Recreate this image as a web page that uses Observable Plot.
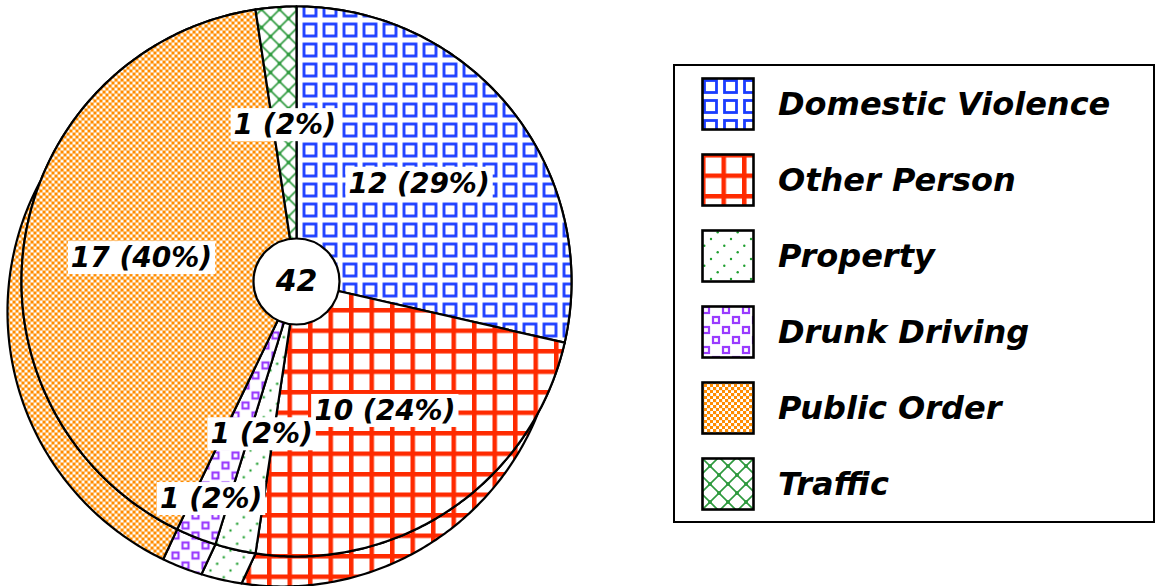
<!DOCTYPE html>
<html><head><meta charset="utf-8">
<script src="https://cdn.jsdelivr.net/npm/d3@7"></script>
<script src="https://cdn.jsdelivr.net/npm/@observablehq/plot@0.6"></script>
<style>
html,body{margin:0;padding:0;background:#fff;}
#wrap{position:relative;width:1158px;height:586px;overflow:hidden;}
#chart{position:absolute;left:0;top:0;}
#legend{position:absolute;left:673px;top:64px;width:478px;height:455px;border:2px solid #000;}
.item{position:absolute;left:26px;display:flex;align-items:center;height:54px;}
.item span{font-family:"DejaVu Sans";font-style:italic;font-weight:bold;font-size:32px;margin-left:23px;color:#000;white-space:nowrap;}
</style></head>
<body>
<svg width="0" height="0" style="position:absolute;left:0;top:0">
<defs>
<pattern id="p-dv" patternUnits="userSpaceOnUse" width="20" height="20">
  <rect width="20" height="20" fill="#fff"/>
  <rect x="3.5" y="3.5" width="12" height="12" fill="none" stroke="#1a3cff" stroke-width="2.8"/>
</pattern>
<pattern id="p-op" patternUnits="userSpaceOnUse" width="20.5" height="20.5">
  <rect width="20.5" height="20.5" fill="#fff"/>
  <rect x="0" y="0" width="20.5" height="4.5" fill="#ff2a00"/>
  <rect x="0" y="0" width="4.5" height="20.5" fill="#ff2a00"/>
</pattern>
<pattern id="p-pr" patternUnits="userSpaceOnUse" width="20" height="20">
  <rect width="20" height="20" fill="#fff"/>
  <circle cx="3.3" cy="16.7" r="1.2" fill="#1f9f2f"/>
  <circle cx="10" cy="10" r="1.2" fill="#1f9f2f"/>
  <circle cx="16.7" cy="3.3" r="1.2" fill="#1f9f2f"/>
</pattern>
<pattern id="p-dd" patternUnits="userSpaceOnUse" width="20" height="20">
  <rect width="20" height="20" fill="#fff"/>
  <rect x="2" y="2" width="6" height="6" fill="none" stroke="#9a3cff" stroke-width="2.2"/>
  <rect x="12" y="12" width="6" height="6" fill="none" stroke="#9a3cff" stroke-width="2.2"/>
</pattern>
<pattern id="p-po" patternUnits="userSpaceOnUse" width="6" height="6">
  <rect width="6" height="6" fill="#fff"/>
  <rect x="0" y="0" width="3.2" height="3.2" fill="#ff8c00"/>
  <rect x="3" y="3" width="3.2" height="3.2" fill="#ff8c00"/>
</pattern>
<pattern id="p-tr" patternUnits="userSpaceOnUse" width="18" height="18">
  <rect width="18" height="18" fill="#fff"/>
  <path d="M0,0L18,18M18,0L0,18" stroke="#2e9a3e" stroke-width="1.6"/>
  <circle cx="0" cy="0" r="2" fill="#2e9a3e"/><circle cx="18" cy="0" r="2" fill="#2e9a3e"/>
  <circle cx="0" cy="18" r="2" fill="#2e9a3e"/><circle cx="18" cy="18" r="2" fill="#2e9a3e"/>
  <circle cx="9" cy="9" r="2" fill="#2e9a3e"/>
</pattern>
</defs>
</svg>
<div id="wrap"><div id="chart"></div><div id="legend"></div></div>
<script>
// ---- data ----
const categories = ["Domestic Violence", "Other Person", "Property", "Drunk Driving", "Public Order", "Traffic"];
const counts = [12, 10, 1, 1, 17, 1];
const patterns = ["url(#p-dv)", "url(#p-op)", "url(#p-pr)", "url(#p-dd)", "url(#p-po)", "url(#p-tr)"];

// ---- layout ----
const W = 640, H = 586, R = 275, CX = 296, CY = 281;
const OX = -14 / R, OY = -30 / R; // extrusion offset in radius units (y up)

const total = d3.sum(counts);
const data = categories.map((c, i) => ({category: c, count: counts[i]}));
const arcs = d3.pie().sort(null).value(d => d.count)(data);

function arcPoints(a0, a1, dx, dy) {
  const n = Math.max(2, Math.ceil(Math.abs(a1 - a0) / (Math.PI / 240)));
  const pts = [];
  for (let k = 0; k <= n; k++) {
    const a = a0 + (a1 - a0) * k / n;
    pts.push([Math.sin(a) + dx, Math.cos(a) + dy]);
  }
  return pts;
}

const facePts = [], wallPts = [];
arcs.forEach((a, i) => {
  const cat = a.data.category;
  const face = [[0, 0], ...arcPoints(a.startAngle, a.endAngle, 0, 0), [0, 0]];
  face.forEach(([x, y]) => facePts.push({id: "f" + i, category: cat, x, y}));
  const top = arcPoints(a.startAngle, a.endAngle, 0, 0);
  const bot = arcPoints(a.endAngle, a.startAngle, OX, OY);
  [...top, ...bot, top[0]].forEach(([x, y]) => wallPts.push({id: "w" + i, category: cat, x, y}));
});

// labels with simple collision handling
const ctx = document.createElement("canvas").getContext("2d");
ctx.font = "italic bold 28px 'DejaVu Sans'";
const placed = [];
const labels = arcs.map(a => {
  const pct = Math.round(a.data.count / total * 100);
  const text = `${a.data.count} (${pct}%)`;
  const mid = (a.startAngle + a.endAngle) / 2;
  const w = ctx.measureText(text).width - 10, h = 30;
  let r = 0.57;
  const box = r => ({x: CX + Math.sin(mid) * r * R, y: CY - Math.cos(mid) * r * R});
  const overlaps = p => placed.some(q => Math.abs(p.x - q.x) < (w + q.w) / 2 && Math.abs(p.y - q.y) < (h + q.h) / 2);
  if (overlaps(box(r))) r = 0.85;
  const p = box(r);
  placed.push({x: p.x, y: p.y, w, h});
  return {text, x: Math.sin(mid) * r, y: Math.cos(mid) * r};
});

const chart = Plot.plot({
  width: W, height: H, margin: 0,
  style: {background: "white", overflow: "visible"},
  x: {domain: [-CX / R, (W - CX) / R], axis: null},
  y: {domain: [-(H - CY) / R, CY / R], axis: null},
  color: {domain: categories, range: patterns},
  marks: [
    Plot.line(wallPts, {x: "x", y: "y", z: "id", fill: "category", stroke: "black", strokeWidth: 2.2, strokeLinejoin: "round"}),
    Plot.line(facePts, {x: "x", y: "y", z: "id", fill: "category", stroke: "black", strokeWidth: 2.2, strokeLinejoin: "round"}),
    Plot.dot([{x: 0, y: 0}], {x: "x", y: "y", r: 43, fill: "white", stroke: "black", strokeWidth: 2.2}),
    Plot.text([{x: 0, y: 0, t: String(total)}], {x: "x", y: "y", text: "t", fontSize: 30, fontWeight: "bold", fontStyle: "italic", fontFamily: "DejaVu Sans", fill: "black"}),
    Plot.text(labels, {x: "x", y: "y", text: "text", fontSize: 28, fontWeight: "bold", fontStyle: "italic", fontFamily: "DejaVu Sans", fill: "black"})
  ]
});
document.getElementById("chart").appendChild(chart);

// white boxes behind slice labels
const textGroups = chart.querySelectorAll('g[aria-label="text"]');
const lg = textGroups[textGroups.length - 1];
lg.querySelectorAll("text").forEach(t => {
  const b = t.getBBox();
  const rect = document.createElementNS("http://www.w3.org/2000/svg", "rect");
  rect.setAttribute("x", b.x - 3);
  rect.setAttribute("y", b.y);
  rect.setAttribute("width", b.width + 6);
  rect.setAttribute("height", b.height);
  rect.setAttribute("fill", "white");
  rect.setAttribute("stroke", "none");
  if (t.getAttribute("transform")) rect.setAttribute("transform", t.getAttribute("transform"));
  t.parentNode.insertBefore(rect, t);
});

// legend
const legend = document.getElementById("legend");
categories.forEach((c, i) => {
  const item = document.createElement("div");
  item.className = "item";
  item.style.top = (11 + i * 76) + "px";
  item.innerHTML = `<svg width="54" height="54"><rect x="1.5" y="1.5" width="51" height="51" fill="${patterns[i]}" stroke="#000" stroke-width="2.6"/></svg><span>${c}</span>`;
  legend.appendChild(item);
});
</script>
</body></html>
